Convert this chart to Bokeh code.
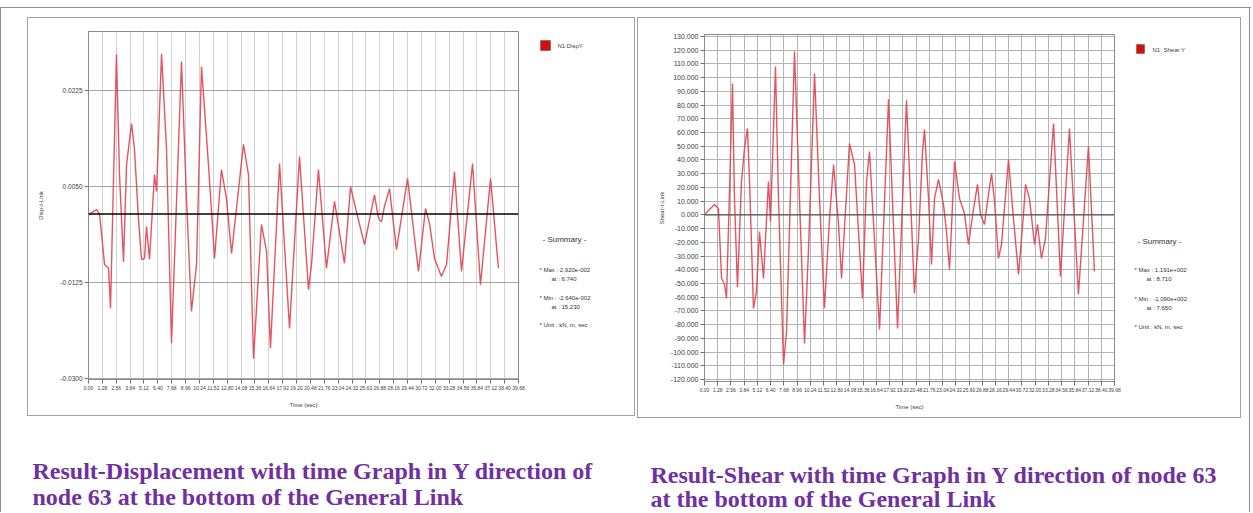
from bokeh.plotting import figure
from bokeh.models import (Range1d, FixedTicker, PrintfTickFormatter, Span, BoxAnnotation,
                          Label, Spacer)
from bokeh.layouts import column, row
from bokeh.embed import file_html
from bokeh.resources import INLINE

# ---------------- data ----------------
disp_time = [0.00, 0.74, 1.02, 1.48, 1.85, 2.03, 2.58, 2.86, 3.23, 3.51, 3.97, 4.24, 4.61, 4.89,
             5.17, 5.35, 5.63, 6.09, 6.28, 6.74, 7.20, 7.66, 8.58, 9.04, 9.50, 9.97, 10.43, 11.07,
             11.63, 12.27, 12.73, 13.20, 14.30, 14.76, 15.23, 15.96, 16.43, 16.79, 17.63, 18.55,
             19.47, 20.30, 20.58, 21.22, 21.96, 22.70, 23.62, 24.18, 24.73, 25.47, 26.39, 26.76,
             27.04, 27.31, 27.78, 28.42, 29.44, 30.45, 31.10, 31.47, 31.93, 32.57, 33.04, 33.77,
             34.42, 35.44, 36.17, 37.10, 37.83]
disp_value = [-0.0001, 0.0008, 0.0000, -0.0092, -0.0099, -0.0172, 0.0291, 0.0072, -0.0087, 0.0090,
              0.0165, 0.0119, -0.0008, -0.0083, -0.0081, -0.0023, -0.0083, 0.0072, 0.0041, 0.0292,
              0.0119, -0.0236, 0.0278, 0.0028, -0.0178, -0.0092, 0.0269, 0.0090, -0.0081, 0.0081,
              0.0028, -0.0072, 0.0127, 0.0072, -0.0264, -0.0019, -0.0068, -0.0245, 0.0092, -0.0209,
              0.0105, -0.0138, -0.0092, 0.0081, -0.0099, 0.0023, -0.0090, 0.0050, 0.0004, -0.0056,
              0.0035, -0.0008, -0.0014, 0.0014, 0.0046, -0.0065, 0.0065, -0.0105, 0.0010, -0.0017,
              -0.0081, -0.0114, -0.0092, 0.0077, -0.0105, 0.0092, -0.0129, 0.0065, -0.0099]

shear_time = [0.00, 0.97, 1.35, 1.65, 1.94, 2.13, 2.71, 2.90, 3.19, 3.58, 3.87, 4.16, 4.36, 4.74,
              5.03, 5.32, 5.71, 6.19, 6.39, 6.87, 7.16, 7.65, 7.94, 8.71, 9.19, 9.68, 10.07, 10.65,
              11.13, 11.61, 12.10, 12.49, 12.97, 13.26, 14.03, 14.52, 15.29, 15.68, 15.97, 16.94,
              17.81, 18.68, 19.55, 20.32, 20.71, 21.10, 21.29, 21.68, 21.97, 22.26, 22.65, 23.13,
              23.42, 23.71, 24.20, 24.68, 25.16, 25.55, 26.03, 26.42, 26.71, 27.10, 27.39, 27.78,
              28.07, 28.45, 28.74, 29.42, 29.90, 30.39, 30.87, 31.07, 31.45, 31.94, 32.23, 32.61,
              33.00, 33.78, 34.45, 35.32, 36.19, 37.16, 37.74]
shear_value = [0.3, 7.6, 4.7, -46.2, -50.6, -60.9, 95.8, 12.0, -52.5, 24.3, 48.4, 63.0, 24.3, -68.2,
               -55.8, -12.1, -46.4, 24.3, -4.8, 108.2, 12.0, -109.0, -85.0, 119.1, 12.0, -93.7, -24.5,
               103.1, 12.0, -68.1, -2.6, 36.7, -7.0, -46.4, 52.0, 36.7, -60.9, 24.3, 46.2, -83.5,
               84.3, -82.8, 83.6, -57.3, -17.2, 46.1, 62.2, 12.0, -36.2, 12.0, 25.8, 7.6, -12.1,
               -39.8, 38.9, 12.0, 1.0, -21.6, 3.9, 22.2, 0.3, -7.0, 9.8, 30.2, 9.8, -31.8, -21.6,
               40.4, -2.6, -43.4, 0.3, 22.2, 12.0, -21.6, -7.0, -31.8, -17.2, 66.6, -44.9, 63.0,
               -58.0, 49.9, -41.3]

time_ticks = [0.00, 1.28, 2.56, 3.84, 5.12, 6.40, 7.68, 8.96, 10.24, 11.52, 12.80, 14.08, 15.36,
              16.64, 17.92, 19.20, 20.48, 21.76, 23.04, 24.32, 25.60, 26.88, 28.16, 29.44, 30.72,
              32.00, 33.28, 34.56, 35.84, 37.12, 38.40, 39.68]
disp_ticks = [-0.0300, -0.0125, 0.0050, 0.0225]
shear_ticks = [-120, -110, -100, -90, -80, -70, -60, -50, -40, -30, -20, -10, 0, 10, 20, 30, 40,
               50, 60, 70, 80, 90, 100, 110, 120, 130]

legend_labels = ["N1:DispY", "N1: Shear Y"]
y_titles = ["Disp-t-Link", "Shear-t-Link"]
captions_left = ["Result-Displacement with time Graph in Y direction of",
                 "node 63 at the bottom of the General Link"]
captions_right = ["Result-Shear with time Graph in Y direction of node 63",
                  "at the bottom of the General Link"]


def sci(x):
    m, e = f"{x:.3e}".split("e")
    return f"{m}e{int(e):+04d}"


SMALL = "Liberation Sans"
LINE_RED = "#e0434f"
PANEL = "1px solid #a2a2a2"


def chart(t, v, width, height, ml, mr, mt, mb, yrange, yticks, yfmt, ytitle, ylab_fs, ystand,
          xgrid_col, ygrid_col, zero_col, zero_w):
    p = figure(width=width, height=height, x_range=Range1d(0, 39.68),
               y_range=Range1d(*yrange), toolbar_location=None, output_backend="svg",
               min_border_left=ml, min_border_right=mr, min_border_top=mt, min_border_bottom=mb)
    p.styles = {"border-left": PANEL, "border-top": PANEL, "border-bottom": PANEL,
                "box-sizing": "border-box"}
    p.outline_line_color = "#8a8a8a"
    p.xaxis.ticker = FixedTicker(ticks=time_ticks)
    p.xaxis.formatter = PrintfTickFormatter(format="%.2f")
    p.yaxis.ticker = FixedTicker(ticks=yticks)
    p.yaxis.formatter = PrintfTickFormatter(format=yfmt)
    p.xaxis.axis_label = "Time (sec)"
    p.yaxis.axis_label = ytitle
    for ax in (p.xaxis, p.yaxis):
        ax.axis_line_color = "#8a8a8a"
        ax.major_tick_line_color = "#707070"
        ax.major_tick_out = 4
        ax.major_tick_in = 0
        ax.minor_tick_line_color = None
        ax.major_label_text_color = "#404040"
        ax.major_label_text_font = SMALL
        ax.major_label_standoff = 2
        ax.axis_label_text_font_size = "6px"
        ax.axis_label_text_font_style = "normal"
        ax.axis_label_text_color = "#404040"
        ax.axis_label_text_font = SMALL
    p.xaxis.major_label_text_font_size = "5px"
    p.yaxis.major_label_text_font_size = ylab_fs
    p.xaxis.axis_label_standoff = 9
    p.yaxis.axis_label_standoff = ystand
    p.xgrid.grid_line_color = xgrid_col
    p.ygrid.grid_line_color = ygrid_col
    p.xgrid.ticker = FixedTicker(ticks=time_ticks)
    p.ygrid.ticker = FixedTicker(ticks=yticks)

    p.line(t, v, line_color=LINE_RED, line_width=1.4, line_alpha=0.9)
    p.add_layout(Span(location=0, dimension="width", line_color=zero_col, line_width=zero_w))
    return p


def side(t, v, width, height, leg, box, leg_x, leg_y, sx, ys):
    # side panel frame is aligned with the chart frame: y is measured from the chart's x-axis
    s = figure(width=width, height=height, x_range=Range1d(0, 1), y_range=Range1d(0, 1),
               toolbar_location=None, output_backend="svg", min_border=0)
    s.styles = {"border-right": PANEL, "border-top": PANEL, "border-bottom": PANEL,
                "box-sizing": "border-box"}
    s.axis.visible = False
    s.grid.visible = False
    s.outline_line_color = None
    bl, br, bb, bt = box
    s.add_layout(BoxAnnotation(left=bl, right=br, bottom=bb, top=bt, left_units="screen",
                               right_units="screen", bottom_units="screen", top_units="screen",
                               fill_color="#cc1111", fill_alpha=1.0, line_color="#6a0000",
                               line_width=1))
    s.add_layout(Label(x=leg_x, y=leg_y, x_units="screen", y_units="screen", text=leg,
                       text_font_size="6px", text_font=SMALL, text_color="#404040",
                       text_baseline="middle"))

    imax = v.index(max(v))
    imin = v.index(min(v))
    lines = [
        (sx + 3, ys[0], "- Summary -", "8px"),
        (sx, ys[1], f"* Max : {sci(v[imax])}", "6px"),
        (sx + 12, ys[2], f"at : {t[imax]:.3f}", "6px"),
        (sx, ys[3], f"* Min : {sci(v[imin])}", "6px"),
        (sx + 12, ys[4], f"at : {t[imin]:.3f}", "6px"),
        (sx, ys[5], "* Unit : kN, m, sec", "6px"),
    ]
    for x, y, txt, fs in lines:
        s.add_layout(Label(x=x, y=y, x_units="screen", y_units="screen", text=txt,
                           text_font_size=fs, text_font=SMALL, text_color="#333333",
                           text_baseline="middle"))
    return s


left = chart(disp_time, disp_value, 500, 399, 60, 10, 13, 38, (-0.0302, 0.0333), disp_ticks,
             "%.4f", y_titles[0], "6.5px", 13, "#d2d2d2", "#a6a6a6", "#000000", 1.6)
left_side = side(disp_time, disp_value, 108, 399, legend_labels[0], (13, 23, 329, 339), 30, 334,
                 12, [140, 110, 101, 82, 73, 55])
right = chart(shear_time, shear_value, 486, 401, 66, 10, 16, 38, (-121.5, 131.5), shear_ticks,
              "%.3f", y_titles[1], "7px", 3, "#b4b4b4", "#b4b4b4", "#555555", 1.2)
right_side = side(shear_time, shear_value, 118, 401, legend_labels[1], (13, 21, 328, 337), 29,
                  332, 11, [140, 112, 103, 83, 74, 55])

cap = figure(width=1248, height=94, x_range=Range1d(0, 1248), y_range=Range1d(0, 94),
             toolbar_location=None, output_backend="svg", min_border=0)
cap.axis.visible = False
cap.grid.visible = False
cap.outline_line_color = None
for (x, y, txt) in [(31, 42, captions_left[0]), (31, 16, captions_left[1]),
                    (649, 38, captions_right[0]), (649, 14, captions_right[1])]:
    cap.add_layout(Label(x=x, y=y, x_units="screen", y_units="screen", text=txt,
                         text_font="Liberation Serif", text_font_style="bold",
                         text_font_size="24px", text_color="#7030a0",
                         text_baseline="alphabetic"))

FRAME = {"background-color": "#8c8c8c"}
inner = column(Spacer(width=1248, height=9),
               row(Spacer(width=26, height=401),
                   column(row(left, left_side)),
                   Spacer(width=2, height=401),
                   column(row(right, right_side))),
               cap)
layout = column(Spacer(width=1251, height=7),
                Spacer(width=1251, height=1, styles=FRAME),
                row(Spacer(width=1, height=504, styles=FRAME), inner,
                    Spacer(width=1, height=504, styles=FRAME)))

open("out.html", "w").write(file_html(layout, INLINE))
